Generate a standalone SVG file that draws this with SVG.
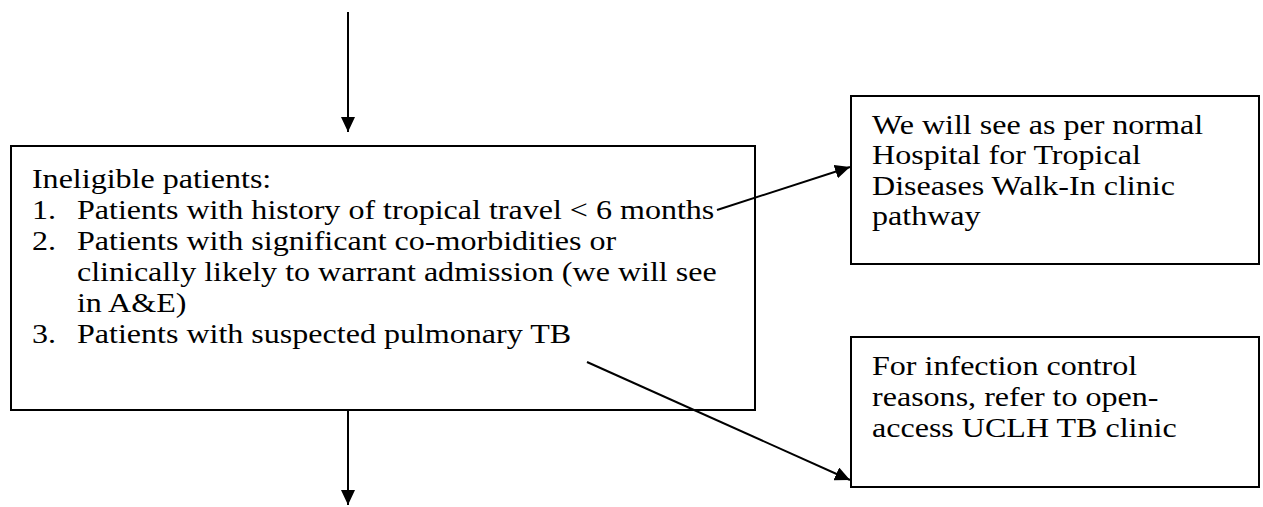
<svg xmlns="http://www.w3.org/2000/svg" width="1263" height="507" viewBox="0 0 1263 507">
<defs>
<marker id="ah" viewBox="0 0 15 14" refX="15" refY="7" markerWidth="15" markerHeight="14" markerUnits="userSpaceOnUse" orient="auto">
<path d="M0,0 L15,7 L0,14 z" fill="#000"/>
</marker>
<style>
.box{fill:#fff;stroke:#000;stroke-width:2}
.t{font-family:"Liberation Serif","Times New Roman",serif;font-size:28px;fill:#000}
.c{stroke:#000;stroke-width:2;fill:none;marker-end:url(#ah)}
</style>
</defs>
<g id="main">
<rect class="box" x="11" y="146" width="744" height="264"/>
<g transform="scale(1.145,1)">
<text class="t" x="27.9" y="188">Ineligible patients:</text>
<text class="t" x="27.9" y="219">1.</text><text class="t" x="67.2" y="219">Patients with history of tropical travel &lt; 6 months</text>
<text class="t" x="27.9" y="250">2.</text><text class="t" x="67.2" y="250">Patients with significant co-morbidities or</text>
<text class="t" x="67.2" y="281">clinically likely to warrant admission (we will see</text>
<text class="t" x="67.2" y="312">in A&amp;E)</text>
<text class="t" x="27.9" y="343">3.</text><text class="t" x="67.2" y="343">Patients with suspected pulmonary TB</text>
</g>
</g>
<g id="htd">
<rect class="box" x="851" y="96" width="408" height="168"/>
<g transform="scale(1.145,1)">
<text class="t" x="761.6" y="134">We will see as per normal</text>
<text class="t" x="761.6" y="164">Hospital for Tropical</text>
<text class="t" x="761.6" y="195">Diseases Walk-In clinic</text>
<text class="t" x="761.6" y="225">pathway</text>
</g>
</g>
<g id="tb">
<rect class="box" x="851" y="337" width="408" height="150"/>
<g transform="scale(1.145,1)">
<text class="t" x="761.6" y="375">For infection control</text>
<text class="t" x="761.6" y="406">reasons, refer to open-</text>
<text class="t" x="761.6" y="437">access UCLH TB clinic</text>
</g>
</g>
<g id="connectors">
<line class="c" x1="348" y1="12" x2="348" y2="132"/>
<line class="c" x1="348" y1="410" x2="348" y2="505"/>
<line class="c" x1="717" y1="210" x2="850" y2="167"/>
<line class="c" x1="587" y1="362" x2="850" y2="480"/>
</g>
</svg>
